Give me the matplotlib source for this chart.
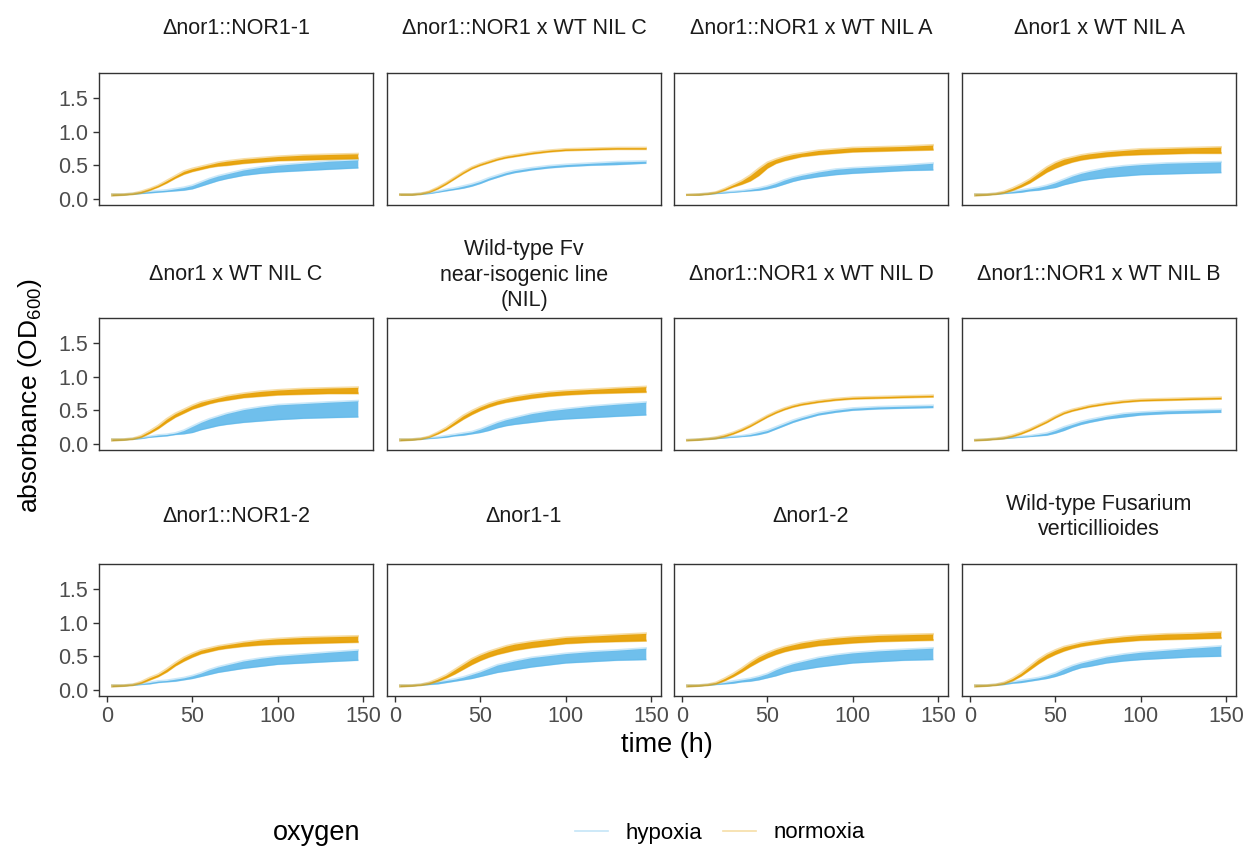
import matplotlib
matplotlib.use("Agg")
import matplotlib.pyplot as plt
from matplotlib.lines import Line2D

plt.rcParams['font.family'] = ['Liberation Sans', 'DejaVu Sans']
plt.rcParams['mathtext.fontset'] = 'custom'
plt.rcParams['mathtext.rm'] = 'Liberation Sans'
plt.rcParams['mathtext.it'] = 'Liberation Sans:italic'

# ---------------- data ----------------
time_h = [3, 10, 15, 20, 25, 30, 35, 40, 45, 50, 55, 60, 65, 70, 80, 90, 100, 115, 130, 147]

titles = [
    "\u0394nor1::NOR1-1", "\u0394nor1::NOR1 x WT NIL C", "\u0394nor1::NOR1 x WT NIL A", "\u0394nor1 x WT NIL A",
    "\u0394nor1 x WT NIL C", "Wild-type Fv\nnear-isogenic line\n(NIL)", "\u0394nor1::NOR1 x WT NIL D", "\u0394nor1::NOR1 x WT NIL B",
    "\u0394nor1::NOR1-2", "\u0394nor1-1", "\u0394nor1-2", "Wild-type Fusarium\nverticillioides",
]

norm_lo = [
    [.05,.06,.07,.09,.13,.18,.24,.31,.37,.41,.44,.47,.49,.50,.53,.55,.57,.58,.59,.60],
    [.06,.06,.07,.10,.15,.22,.30,.38,.45,.50,.54,.58,.61,.63,.67,.70,.72,.73,.74,.74],
    [.06,.06,.07,.09,.13,.18,.22,.27,.35,.46,.53,.57,.60,.63,.66,.68,.70,.71,.72,.73],
    [.05,.06,.07,.09,.13,.18,.24,.32,.40,.46,.51,.55,.58,.60,.63,.65,.66,.67,.68,.68],
    [.05,.06,.07,.10,.16,.23,.32,.40,.46,.52,.56,.60,.63,.65,.69,.71,.73,.74,.75,.75],
    [.05,.06,.07,.10,.15,.21,.29,.37,.44,.50,.55,.59,.62,.64,.68,.71,.73,.75,.76,.77],
    [.05,.06,.07,.08,.11,.15,.20,.26,.33,.40,.46,.51,.55,.58,.62,.65,.67,.68,.69,.70],
    [.05,.06,.07,.08,.11,.15,.20,.26,.32,.39,.45,.49,.52,.55,.59,.62,.64,.65,.66,.67],
    [.05,.06,.07,.10,.15,.20,.27,.36,.43,.49,.54,.57,.60,.62,.65,.67,.68,.69,.70,.71],
    [.05,.06,.07,.09,.13,.18,.24,.31,.38,.44,.49,.53,.56,.59,.63,.66,.69,.71,.72,.73],
    [.05,.06,.07,.09,.14,.20,.27,.35,.42,.48,.53,.57,.60,.62,.66,.68,.70,.72,.73,.74],
    [.05,.06,.07,.09,.14,.21,.30,.39,.47,.53,.58,.62,.65,.67,.70,.72,.74,.75,.76,.77],
]
norm_hi = [
    [.07,.07,.08,.11,.15,.20,.27,.34,.41,.45,.48,.51,.54,.56,.59,.61,.63,.65,.66,.67],
    [.07,.07,.08,.11,.17,.24,.32,.40,.47,.52,.56,.60,.63,.65,.69,.72,.74,.75,.76,.76],
    [.06,.07,.08,.10,.15,.21,.27,.35,.45,.54,.59,.63,.66,.68,.72,.74,.76,.77,.78,.80],
    [.07,.07,.08,.11,.16,.22,.29,.38,.47,.54,.59,.62,.65,.67,.70,.72,.74,.75,.76,.77],
    [.07,.07,.08,.12,.19,.27,.37,.45,.51,.57,.62,.65,.68,.71,.75,.78,.80,.82,.83,.84],
    [.07,.07,.08,.11,.17,.24,.33,.42,.49,.55,.60,.64,.67,.70,.74,.77,.79,.81,.83,.85],
    [.06,.07,.08,.10,.13,.17,.22,.28,.35,.42,.48,.53,.57,.60,.64,.67,.69,.70,.71,.72],
    [.06,.07,.08,.10,.13,.17,.22,.28,.34,.41,.47,.51,.54,.57,.61,.64,.66,.67,.68,.69],
    [.07,.07,.08,.12,.18,.23,.31,.40,.48,.54,.59,.62,.65,.67,.71,.74,.76,.78,.79,.80],
    [.07,.07,.08,.11,.16,.22,.30,.38,.46,.52,.57,.61,.65,.68,.72,.75,.78,.80,.82,.84],
    [.07,.07,.08,.11,.17,.24,.32,.41,.49,.55,.60,.64,.67,.70,.74,.77,.79,.81,.82,.83],
    [.07,.07,.08,.11,.17,.25,.35,.45,.53,.59,.64,.67,.70,.72,.76,.79,.81,.83,.84,.86],
]
hyp_lo = [
    [.05,.06,.07,.08,.09,.10,.11,.12,.13,.15,.19,.23,.27,.30,.35,.38,.40,.42,.44,.46],
    [.06,.06,.07,.08,.10,.12,.14,.16,.19,.23,.28,.32,.36,.39,.43,.46,.48,.50,.51,.53],
    [.06,.06,.07,.08,.09,.10,.11,.12,.13,.15,.18,.22,.26,.29,.33,.36,.38,.40,.42,.43],
    [.05,.06,.07,.08,.09,.10,.12,.13,.15,.17,.21,.24,.27,.29,.32,.34,.36,.37,.38,.39],
    [.05,.06,.07,.08,.10,.11,.12,.14,.15,.17,.21,.24,.27,.29,.32,.34,.36,.38,.39,.40],
    [.05,.06,.07,.08,.09,.10,.12,.13,.15,.17,.20,.24,.27,.29,.32,.35,.37,.39,.41,.43],
    [.05,.06,.07,.08,.09,.10,.11,.12,.14,.17,.22,.27,.32,.36,.43,.47,.50,.52,.53,.54],
    [.05,.06,.07,.08,.09,.10,.11,.12,.13,.16,.20,.25,.29,.32,.37,.40,.43,.45,.46,.47],
    [.05,.06,.07,.08,.09,.11,.12,.13,.15,.17,.20,.23,.26,.28,.32,.35,.38,.40,.42,.44],
    [.05,.06,.07,.08,.09,.11,.13,.15,.17,.20,.23,.26,.28,.30,.34,.37,.40,.42,.44,.45],
    [.05,.06,.07,.08,.09,.10,.12,.13,.15,.18,.21,.25,.28,.30,.34,.37,.40,.42,.44,.45],
    [.05,.06,.07,.08,.10,.11,.13,.15,.17,.20,.24,.29,.33,.35,.40,.43,.45,.47,.49,.50],
]
hyp_hi = [
    [.07,.07,.08,.09,.11,.12,.13,.15,.17,.20,.25,.30,.34,.37,.43,.47,.50,.53,.56,.58],
    [.07,.07,.08,.09,.11,.14,.16,.19,.22,.26,.31,.35,.39,.42,.46,.49,.51,.53,.55,.56],
    [.06,.07,.08,.09,.10,.11,.12,.14,.16,.19,.23,.28,.32,.35,.40,.44,.46,.48,.50,.53],
    [.07,.07,.08,.09,.11,.13,.15,.17,.20,.24,.29,.34,.38,.41,.46,.49,.51,.53,.54,.55],
    [.07,.07,.08,.09,.11,.13,.14,.16,.20,.26,.32,.37,.41,.45,.51,.55,.58,.60,.62,.64],
    [.07,.07,.08,.09,.10,.12,.14,.16,.18,.22,.27,.32,.36,.39,.45,.49,.52,.56,.59,.62],
    [.06,.07,.08,.09,.10,.11,.12,.14,.17,.20,.25,.30,.35,.39,.46,.50,.53,.55,.56,.57],
    [.06,.07,.08,.09,.10,.11,.12,.14,.16,.20,.25,.29,.33,.36,.41,.45,.47,.49,.50,.51],
    [.07,.07,.08,.09,.11,.13,.14,.16,.18,.21,.25,.30,.34,.37,.43,.47,.50,.53,.56,.59],
    [.07,.07,.08,.10,.12,.14,.16,.19,.23,.27,.32,.37,.40,.43,.48,.51,.54,.57,.59,.62],
    [.07,.07,.08,.09,.11,.13,.15,.17,.20,.24,.30,.35,.39,.42,.48,.52,.55,.58,.60,.62],
    [.07,.07,.08,.10,.12,.14,.16,.18,.21,.25,.31,.36,.40,.43,.49,.53,.56,.59,.62,.65],
]

x_ticks = [0, 50, 100, 150]
y_ticks = [0.0, 0.5, 1.0, 1.5]
y_ticklabels = ["0.0", "0.5", "1.0", "1.5"]

col_hyp = "#56B4E9"
col_norm = "#E69F00"

# ---------------- layout ----------------
W, H = 1247, 852
fig = plt.figure(figsize=(W / 100, H / 100), dpi=100)
lefts = [99, 387, 674, 962]
tops = [73, 318, 564]
pw, ph = 274, 132
title_off = [45, 43, 47]

tick_col = "#4d4d4d"
for i in range(12):
    r, c = divmod(i, 4)
    ax = fig.add_axes([lefts[c] / W, 1 - (tops[r] + ph) / H, pw / W, ph / H])
    # hypoxia first
    ax.fill_between(time_h, hyp_lo[i], hyp_hi[i], color=col_hyp, alpha=0.85, lw=0)
    ax.plot(time_h, hyp_lo[i], color=col_hyp, alpha=0.35, lw=1.2)
    ax.plot(time_h, hyp_hi[i], color=col_hyp, alpha=0.3, lw=1.6)
    ax.fill_between(time_h, norm_lo[i], norm_hi[i], color=col_norm, alpha=0.92, lw=0)
    ax.plot(time_h, norm_lo[i], color=col_norm, alpha=0.45, lw=1.6)
    ax.plot(time_h, norm_hi[i], color=col_norm, alpha=0.35, lw=1.6)
    ax.set_xlim(-4.7, 155.9)
    ax.set_ylim(-0.09, 1.87)
    ax.set_xticks(x_ticks)
    ax.set_yticks(y_ticks)
    for s in ax.spines.values():
        s.set_color("#333333")
        s.set_linewidth(1.0)
    ax.tick_params(axis="both", direction="out", length=4.5, width=1.0,
                   color="#333333", labelcolor=tick_col, labelsize=15.5, pad=3)
    if c == 0:
        ax.set_yticklabels(y_ticklabels)
    else:
        ax.tick_params(axis="y", left=False, labelleft=False)
    if r == 2:
        ax.set_xticklabels([str(v) for v in x_ticks])
    else:
        ax.tick_params(axis="x", bottom=False, labelbottom=False)
    ty = 1 + title_off[r] / ph
    ax.text(0.5, ty, titles[i], transform=ax.transAxes, ha="center", va="center",
            fontsize=15.5, color="#1a1a1a", linespacing=1.3)

# axis labels
fig.text(30 / W, 1 - 396 / H, "absorbance (OD$_{600}$)", rotation=90, ha="center",
         va="center", fontsize=19, color="black")
fig.text(667 / W, 1 - 745 / H, "time (h)", ha="center", va="center",
         fontsize=19.5, color="black")

# legend
fig.text(273 / W, 1 - 833 / H, "oxygen", ha="left", va="center", fontsize=19.5)
handles = [Line2D([], [], color=col_hyp, alpha=0.35, lw=1.2),
           Line2D([], [], color=col_norm, alpha=0.35, lw=1.2)]
fig.legend(handles, ["hypoxia", "normoxia"], ncol=2, loc="center",
           bbox_to_anchor=(720 / W, 1 - 833 / H), frameon=False, fontsize=16,
           handlelength=1.5, handletextpad=0.8, columnspacing=0.9)

fig.savefig("out.png", dpi=100)
